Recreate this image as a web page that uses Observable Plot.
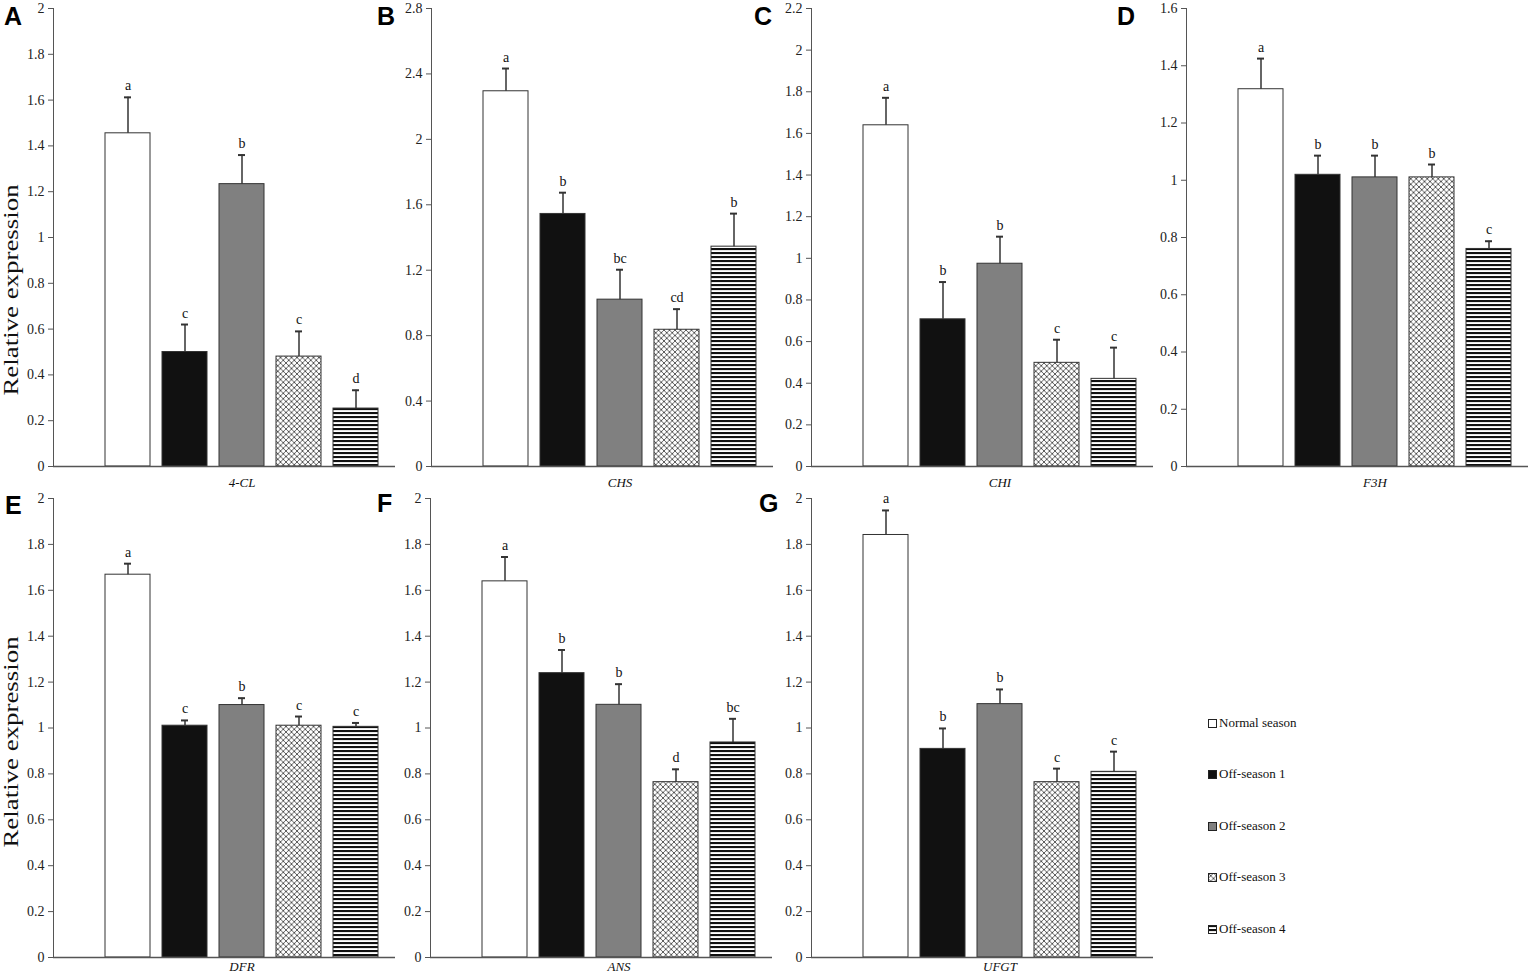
<!DOCTYPE html>
<html><head><meta charset="utf-8">
<script src="https://cdn.jsdelivr.net/npm/d3@7"></script>
<script src="https://cdn.jsdelivr.net/npm/@observablehq/plot@0.6"></script>
<style>
html,body{margin:0;padding:0;background:#fff;}
#fig{position:relative;width:1535px;height:977px;overflow:hidden;background:#fff;}
#fig > svg{position:absolute;}
#fig .leg{position:absolute;font-family:"Liberation Serif","Times New Roman",serif;font-size:13px;color:#111;white-space:nowrap;line-height:14px;}
#fig .leg svg{position:relative;display:inline-block;vertical-align:-1px;margin-right:2px;}
</style></head><body>
<svg width="0" height="0" style="position:absolute;left:0;top:0">
  <defs>
    <pattern id="xhatch" patternUnits="userSpaceOnUse" width="5.5" height="5.5">
      <rect width="5.5" height="5.5" fill="white"/>
      <path d="M-1,-1L6.5,6.5M6.5,-1L-1,6.5" stroke="#333" stroke-width="0.8"/>
    </pattern>
    <pattern id="hstripe" patternUnits="userSpaceOnUse" width="8" height="4">
      <rect width="8" height="4" fill="white"/>
      <rect y="0" width="8" height="2.1" fill="#111"/>
    </pattern>
  </defs>
</svg>
<div id="fig"></div>
<script>
// ---------------- DATA ----------------
const seasons = ["Normal season", "Off-season 1", "Off-season 2", "Off-season 3", "Off-season 4"];
const seasonFills = ["white", "#111111", "#808080", "url(#xhatch)", "url(#hstripe)"];
const genes = ["4-CL", "CHS", "CHI", "F3H", "DFR", "ANS", "UFGT"];
const panelLetters = ["A", "B", "C", "D", "E", "F", "G"];

const mean_4CL = [1.455, 0.50, 1.233, 0.48, 0.253];
const upper_4CL = [1.612, 0.62, 1.36, 0.59, 0.333];
const sig_4CL = ["a", "c", "b", "c", "d"];

const mean_CHS = [2.294, 1.544, 1.020, 0.836, 1.344];
const upper_CHS = [2.433, 1.674, 1.203, 0.962, 1.546];
const sig_CHS = ["a", "b", "bc", "cd", "b"];

const mean_CHI = [1.639, 0.707, 0.974, 0.498, 0.421];
const upper_CHI = [1.771, 0.886, 1.104, 0.609, 0.571];
const sig_CHI = ["a", "b", "b", "c", "c"];

const mean_F3H = [1.318, 1.019, 1.010, 1.010, 0.760];
const upper_F3H = [1.425, 1.086, 1.086, 1.055, 0.787];
const sig_F3H = ["a", "b", "b", "b", "c"];

const mean_DFR = [1.668, 1.010, 1.100, 1.010, 1.005];
const upper_DFR = [1.716, 1.033, 1.130, 1.050, 1.022];
const sig_DFR = ["a", "c", "b", "c", "c"];

const mean_ANS = [1.639, 1.239, 1.101, 0.764, 0.937];
const upper_ANS = [1.745, 1.340, 1.191, 0.820, 1.040];
const sig_ANS = ["a", "b", "b", "d", "bc"];

const mean_UFGT = [1.841, 0.909, 1.104, 0.764, 0.809];
const upper_UFGT = [1.948, 0.998, 1.168, 0.823, 0.897];
const sig_UFGT = ["a", "b", "b", "c", "c"];

const ticks_2_0 = [0, 0.2, 0.4, 0.6, 0.8, 1, 1.2, 1.4, 1.6, 1.8, 2];
const ticks_2_8 = [0, 0.4, 0.8, 1.2, 1.6, 2, 2.4, 2.8];
const ticks_2_2 = [0, 0.2, 0.4, 0.6, 0.8, 1, 1.2, 1.4, 1.6, 1.8, 2, 2.2];
const ticks_1_6 = [0, 0.2, 0.4, 0.6, 0.8, 1, 1.2, 1.4, 1.6];

const yLabel = "Relative expression";

// ---------------- LAYOUT ----------------
const panels = [
  {gene: genes[0], letter: panelLetters[0], mean: mean_4CL, upper: upper_4CL, sig: sig_4CL, ticks: ticks_2_0, row: 0, axisX: 53, lx: 4, ly: 7},
  {gene: genes[1], letter: panelLetters[1], mean: mean_CHS, upper: upper_CHS, sig: sig_CHS, ticks: ticks_2_8, row: 0, axisX: 431, lx: 377, ly: 7},
  {gene: genes[2], letter: panelLetters[2], mean: mean_CHI, upper: upper_CHI, sig: sig_CHI, ticks: ticks_2_2, row: 0, axisX: 811, lx: 754, ly: 7},
  {gene: genes[3], letter: panelLetters[3], mean: mean_F3H, upper: upper_F3H, sig: sig_F3H, ticks: ticks_1_6, row: 0, axisX: 1186, lx: 1117, ly: 7},
  {gene: genes[4], letter: panelLetters[4], mean: mean_DFR, upper: upper_DFR, sig: sig_DFR, ticks: ticks_2_0, row: 1, axisX: 53, lx: 5, ly: 496},
  {gene: genes[5], letter: panelLetters[5], mean: mean_ANS, upper: upper_ANS, sig: sig_ANS, ticks: ticks_2_0, row: 1, axisX: 430, lx: 377, ly: 494},
  {gene: genes[6], letter: panelLetters[6], mean: mean_UFGT, upper: upper_UFGT, sig: sig_UFGT, ticks: ticks_2_0, row: 1, axisX: 811, lx: 759, ly: 494}
];
const rows = [
  {top: 0, marginTop: 8, inner: 458, marginBottom: 24, geneDy: 11},
  {top: 490, marginTop: 8, inner: 459, marginBottom: 20, geneDy: 4}
];

const fig = d3.select("#fig");
const ML = 53, FRAMEW = 342, SVGW = ML + FRAMEW + 2;
const serif = "'Liberation Serif','Times New Roman',serif";

panels.forEach(p => {
  const r = rows[p.row];
  const data = seasons.map((s, i) => ({season: s, value: p.mean[i], upper: p.upper[i], sig: p.sig[i]}));
  const chart = Plot.plot({
    width: SVGW,
    height: r.marginTop + r.inner + r.marginBottom,
    marginLeft: ML, marginRight: SVGW - ML - FRAMEW, marginTop: r.marginTop, marginBottom: r.marginBottom,
    style: {background: "transparent", overflow: "visible", fontFamily: serif, fontSize: "14px", color: "#555"},
    x: {domain: seasons, range: [ML + 46, ML + 331], paddingInner: 0.21, paddingOuter: 0.105, axis: null},
    y: {domain: [0, p.ticks[p.ticks.length - 1]], ticks: p.ticks, tickFormat: d => String(d), tickSize: 5, tickPadding: 4, line: true, label: null},
    color: {domain: seasons, range: seasonFills},
    marks: [
      Plot.barY(data, {x: "season", y: "value", fill: "season", stroke: "#333", strokeWidth: 1}),
      Plot.ruleX(data, {x: "season", y1: "value", y2: "upper", stroke: "#333", strokeWidth: 1.5}),
      Plot.tickY(data, {x: "season", y: "upper", insetLeft: 19, insetRight: 19, stroke: "#333", strokeWidth: 2}),
      Plot.text(data, {x: "season", y: "upper", text: "sig", dy: -7, lineAnchor: "bottom", fill: "#111", fontSize: 14, fontFamily: serif}),
      Plot.ruleY([0], {stroke: "#555", strokeWidth: 1.3}),
      Plot.text([p.gene], {x: [seasons[2]], frameAnchor: "bottom", lineAnchor: "top", dy: r.geneDy, fontStyle: "italic", fill: "#111", fontSize: 13, fontFamily: serif})
    ]
  });
  chart.style.left = (p.axisX - ML) + "px";
  chart.style.top = r.top + "px";
  d3.select(chart).selectAll("g[aria-label='y-axis tick label'] text, g[aria-label='y-axis'] text").attr("fill", "#222");
  fig.node().appendChild(chart);
});

// overlay: panel letters and y-axis titles
const overlay = fig.append("svg").attr("width", 1535).attr("height", 977)
  .style("left", "0px").style("top", "0px").style("pointer-events", "none");
panels.forEach(p => {
  overlay.append("text").attr("x", p.lx).attr("y", p.ly + 18)
    .attr("font-family", "'Liberation Sans',Arial,sans-serif").attr("font-weight", "bold")
    .attr("font-size", 25).attr("fill", "#000").text(p.letter);
});
[290, 742].forEach(cy => {
  overlay.append("text")
    .attr("transform", `translate(18,${cy}) rotate(-90) scale(1.28,1)`)
    .attr("text-anchor", "middle")
    .attr("font-family", serif)
    .attr("font-size", 21).attr("fill", "#111").text(yLabel);
});

// legend
const legendY = [723, 774, 826, 877, 929];
seasons.forEach((s, i) => {
  const item = fig.append("div").attr("class", "leg")
    .style("left", "1208px").style("top", (legendY[i] - 7) + "px");
  const sw = item.append("svg").attr("width", 9).attr("height", 9);
  sw.append("rect").attr("x", 0.5).attr("y", 0.5).attr("width", 8).attr("height", 8)
    .attr("fill", seasonFills[i]).attr("stroke", "#222").attr("stroke-width", 1);
  item.append("span").text(s);
});
</script>
</body></html>
